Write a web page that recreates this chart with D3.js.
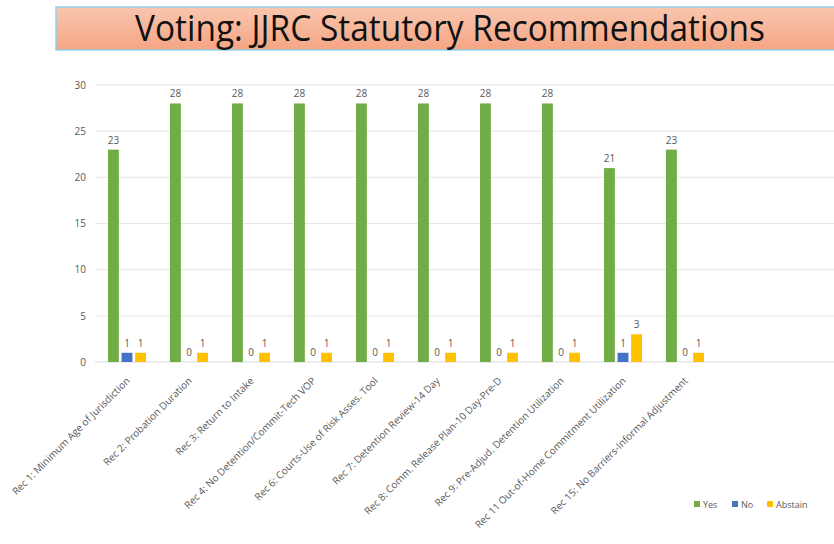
<!DOCTYPE html>
<html>
<head>
<meta charset="utf-8">
<script src="https://cdn.jsdelivr.net/npm/d3@7"></script>
<style>
  body { margin: 0; background: #fff; }
  text { font-family: "Open Sans", "Liberation Sans", sans-serif; }
</style>
</head>
<body>
<script>
// chart values
var categories = ['Rec 1: Minimum Age of Jurisdiction', 'Rec 2: Probation Duration', 'Rec 3: Return to Intake',
    'Rec 4: No Detention/Commit-Tech VOP', 'Rec 6: Courts-Use of Risk Asses. Tool', 'Rec 7: Detention Review-14 Day',
    'Rec 8: Comm. Release Plan-10 Day-Pre-D', 'Rec 9: Pre-Adjud. Detention Utilization',
    'Rec 11 Out-of-Home Commitment Utilization', 'Rec 15: No Barriers-Informal Adjustment'];
var series = ['Yes', 'No', 'Abstain'];
var yes = [23, 28, 28, 28, 28, 28, 28, 28, 21, 23];
var no = [1, 0, 0, 0, 0, 0, 0, 0, 1, 0];
var abstain = [1, 1, 1, 1, 1, 1, 1, 1, 3, 1];
var yTicks = [0, 5, 10, 15, 20, 25, 30];
var title = 'Voting: JJRC Statutory Recommendations';

var colors = {Yes: '#70ad47', No: '#4472c4', Abstain: '#ffc000'};
var textGray = '#595959';

var width = 834, height = 544;
var svg = d3.select('body').append('svg').attr('width', width).attr('height', height);

// title banner
var defs = svg.append('defs');
var grad = defs.append('linearGradient').attr('id', 'tg').attr('x1', 0).attr('y1', 0).attr('x2', 0).attr('y2', 1);
grad.append('stop').attr('offset', '0%').attr('stop-color', '#f9c6ae');
grad.append('stop').attr('offset', '100%').attr('stop-color', '#f5a583');

svg.append('rect')
    .attr('x', 56).attr('y', 7).attr('width', 800).attr('height', 43)
    .attr('fill', 'url(#tg)')
    .attr('stroke', '#92d0ea').attr('stroke-width', 1.5);

svg.append('text')
    .attr('x', 135).attr('y', 41)
    .attr('font-size', 36)
    .attr('textLength', 630).attr('lengthAdjust', 'spacingAndGlyphs')
    .attr('fill', '#111')
    .style('font-family', '"Liberation Sans Narrow", "Open Sans", sans-serif')
    .text(title);

// scales
var y = d3.scaleLinear().domain([0, 30]).range([362, 85]);
var x = d3.scaleBand().domain(categories).range([96, 716]);
var xs = d3.scaleBand().domain(series).range([12, 50]).paddingInner(0.2);

// gridlines
svg.append('g').selectAll('line').data(yTicks).enter().append('line')
    .attr('x1', 95).attr('x2', 834)
    .attr('y1', function (d) { return y(d); })
    .attr('y2', function (d) { return y(d); })
    .attr('stroke', function (d) { return d === 0 ? '#d9d9d9' : '#e6e6e6'; })
    .attr('stroke-width', 1);

// y axis labels
var yAxis = d3.axisLeft(y).tickValues(yTicks).tickSize(0).tickPadding(0);
var ya = svg.append('g').attr('transform', 'translate(86,0)').call(yAxis);
ya.select('.domain').remove();
ya.selectAll('text').attr('fill', textGray).attr('font-size', 10);

// bars
var rows = categories.map(function (c, i) {
    return {cat: c, vals: [{k: 'Yes', v: yes[i]}, {k: 'No', v: no[i]}, {k: 'Abstain', v: abstain[i]}]};
});

var groups = svg.append('g').selectAll('.grp').data(rows).enter().append('g')
    .attr('class', 'grp')
    .attr('transform', function (d) { return 'translate(' + x(d.cat) + ',0)'; });

groups.selectAll('rect').data(function (d) { return d.vals; }).enter().append('rect')
    .attr('x', function (d) { return xs(d.k); })
    .attr('width', xs.bandwidth())
    .attr('y', function (d) { return y(d.v); })
    .attr('height', function (d) { return y(0) - y(d.v); })
    .attr('fill', function (d) { return colors[d.k]; });

groups.selectAll('.lbl').data(function (d) { return d.vals; }).enter().append('text')
    .attr('class', 'lbl')
    .attr('x', function (d) { return xs(d.k) + xs.bandwidth() / 2; })
    .attr('y', function (d) { return y(d.v) - 6; })
    .attr('text-anchor', 'middle')
    .attr('font-size', 10)
    .attr('fill', textGray)
    .text(function (d) { return d.v; });

// category labels, rotated
var xAxis = d3.axisBottom(x).tickSize(0).tickPadding(0);
var xa = svg.append('g').attr('transform', 'translate(0,370)').call(xAxis);
xa.select('.domain').remove();
xa.selectAll('text')
    .attr('fill', textGray)
    .attr('font-size', 10)
    .attr('text-anchor', 'end')
    .attr('dy', '0.35em')
    .attr('transform', 'translate(1,9) rotate(-45)');

// legend
var legend = svg.append('g').attr('transform', 'translate(694,501)');
var lx = [0, 38, 73];
series.forEach(function (s, i) {
    legend.append('rect').attr('x', lx[i]).attr('y', 0).attr('width', 6).attr('height', 6).attr('fill', colors[s]);
    legend.append('text').attr('x', lx[i] + 9).attr('y', 6.5).attr('font-size', 9).attr('fill', textGray).text(s);
});
</script>
</body>
</html>
